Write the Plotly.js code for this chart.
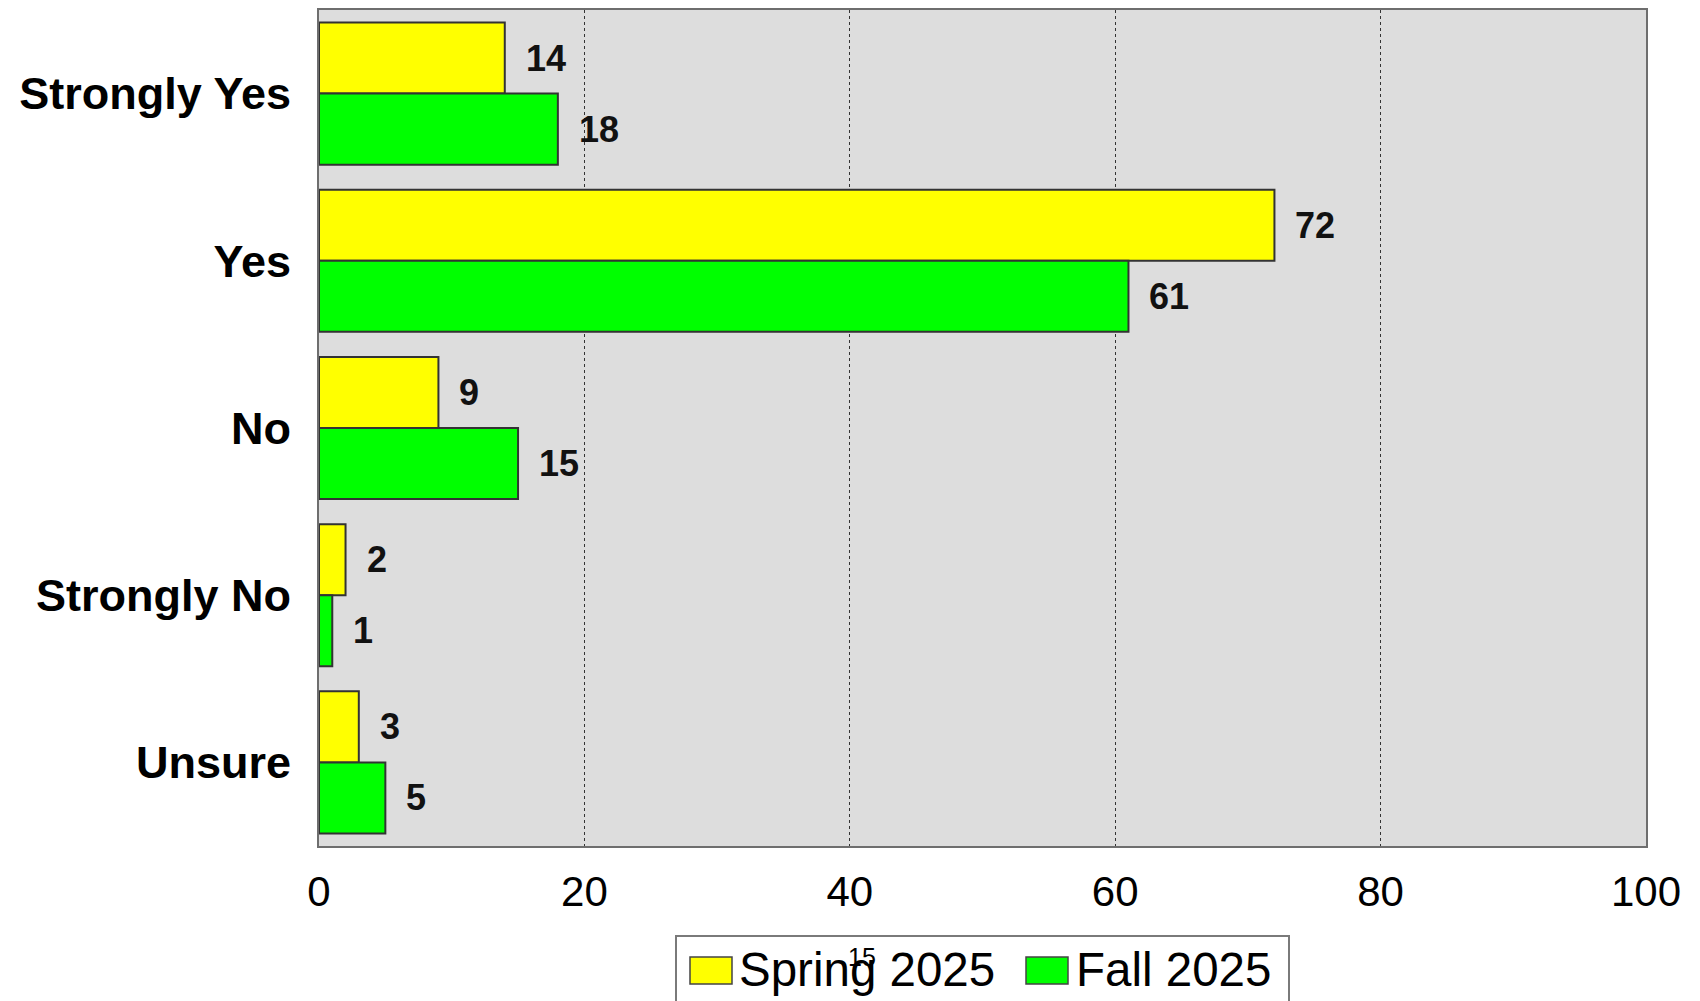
<!DOCTYPE html>
<html>
<head>
<meta charset="utf-8">
<script src="https://cdn.plot.ly/plotly-3.0.1.min.js"></script>
<style>html,body{margin:0;padding:0;background:#fff;}#chart{width:1700px;height:1001px;}</style>
</head>
<body>
<div id="chart"></div>
<script>
// ---- data ----
const categories = ["Strongly Yes", "Yes", "No", "Strongly No", "Unsure"];
const seriesNames = ["Spring 2025", "Fall 2025"];
const spring2025 = [14, 72, 9, 2, 3];
const fall2025 = [18, 61, 15, 1, 5];
const xTicks = [0, 20, 40, 60, 80, 100];
const pageNumber = "15";

// ---- style ----
const colors = ["#ffff00", "#00ff00"];
const FONT = "Liberation Sans, Arial, Helvetica, sans-serif";
const W = 1700, H = 1001;
const M = {l: 319, r: 54, t: 10, b: 155};
const plotW = W - M.l - M.r, plotH = H - M.t - M.b;
const px = x => (x - M.l) / plotW;
const py = y => (H - M.b - y) / plotH;
const bargap = 0.15;

const seriesValues = [spring2025, fall2025];
const traces = seriesNames.map((name, s) => ({
  type: "bar",
  orientation: "h",
  name: name,
  y: categories,
  x: seriesValues[s],
  marker: {color: colors[s], line: {color: "#333333", width: 2}},
  hoverinfo: "x+y+name"
}));

// value labels
const annotations = [];
const barW = (1 - bargap) / seriesNames.length;
seriesValues.forEach((vals, s) => {
  const off = -(1 - bargap) / 2 + barW * (s + 0.5);
  vals.forEach((v, i) => {
    annotations.push({
      x: v, y: i + off, xref: "x", yref: "y",
      text: String(v), showarrow: false,
      xanchor: "left", yanchor: "middle", xshift: 19,
      font: {family: FONT, size: 36, color: "#111111", weight: "bold"}
    });
  });
});

// custom legend
const legendShapes = [
  {type: "rect", xref: "paper", yref: "paper", x0: px(676), x1: px(1289), y0: py(936), y1: py(1012),
   line: {color: "#7a7a7a", width: 2}, fillcolor: "rgba(0,0,0,0)", layer: "above"},
];
const legendSq = [[690, 732], [1026, 1068]];
const legendTextX = [737, 1074];
seriesNames.forEach((name, s) => {
  legendShapes.push({type: "rect", xref: "paper", yref: "paper",
    x0: px(legendSq[s][0]), x1: px(legendSq[s][1]), y0: py(957), y1: py(984),
    line: {color: "#444444", width: 1.5}, fillcolor: colors[s], layer: "above"});
  annotations.push({xref: "paper", yref: "paper", x: px(legendTextX[s]), y: py(969),
    xanchor: "left", yanchor: "middle", showarrow: false, text: name,
    font: {family: FONT, size: 47.5, color: "#000"}});
});
annotations.push({xref: "paper", yref: "paper", x: px(862), y: py(957),
  xanchor: "center", yanchor: "middle", showarrow: false, text: pageNumber,
  font: {family: FONT, size: 25, color: "#000"}});

const layout = {
  width: W, height: H,
  margin: M,
  paper_bgcolor: "#ffffff",
  plot_bgcolor: "#dddddd",
  barmode: "group",
  bargap: bargap,
  bargroupgap: 0,
  showlegend: false,
  xaxis: {
    range: [0, 100], tickvals: xTicks, ticktext: xTicks.map(String),
    showgrid: true, gridcolor: "#333333", griddash: "dot", gridwidth: 1,
    zeroline: false, showline: true, linecolor: "#6e6e6e", linewidth: 2, mirror: true,
    ticks: "", ticklabelstandoff: 8,
    tickfont: {family: FONT, size: 42, color: "#000"}
  },
  yaxis: {
    type: "category", autorange: "reversed",
    showgrid: false, zeroline: false,
    showline: true, linecolor: "#6e6e6e", linewidth: 2, mirror: true,
    ticks: "", ticklabelstandoff: 17,
    tickfont: {family: FONT, size: 45, color: "#000", weight: "bold"}
  },
  shapes: legendShapes,
  annotations: annotations
};

Plotly.newPlot("chart", traces, layout, {displayModeBar: false, staticPlot: true});
</script>
</body>
</html>
